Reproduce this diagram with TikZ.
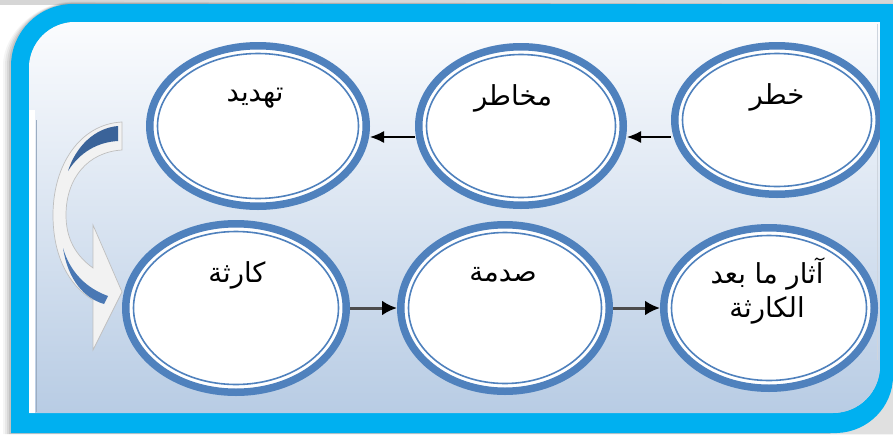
\documentclass[tikz,border=0pt]{standalone}
\usepackage{fontspec}
\newfontfamily\arabicfont[Script=Arabic]{DejaVu Sans}
\TeXXeTstate=1
\usetikzlibrary{shapes.geometric,arrows.meta}
\definecolor{framecyan}{HTML}{00B0F0}
\definecolor{ringblue}{HTML}{4F81BD}
\definecolor{bgtop}{HTML}{FBFCFE}
\definecolor{bgmid}{HTML}{E0E8F1}
\definecolor{bgbot}{HTML}{B8CCE4}
\definecolor{arrowbody}{HTML}{F2F2F2}
\definecolor{arrowedge}{HTML}{BFBFBF}
\definecolor{arrowblue}{HTML}{4A78B4}
\definecolor{arrowdark}{HTML}{3A6399}
\tikzset{
  ring/.style={ellipse, draw=ringblue, line width=7.5pt, fill=white, inner sep=0pt},
  ringthin/.style={draw=ringblue, line width=1.6pt},
  lbl/.style={font=\arabicfont\fontsize{27.5}{34}\selectfont, text=black, inner sep=0pt, align=center},
  conn/.style={draw=black, line width=1.4pt, -{Latex[length=14pt,width=12pt]}},
  connb/.style={draw=black!70, line width=3pt, -{Latex[length=15pt,width=15pt,fill=black,color=black]}}
}
\newcommand\ringnode[5]{%
  \node[ring, minimum width={2*#4-7.5}, minimum height={2*#5-7.5}] (#1) at (#2,#3) {};
  \draw[ringthin] (#1.center) ellipse [x radius={#4-11.5}, y radius={#5-11.5}];
}
\begin{document}
\begin{tikzpicture}[x=1pt,y=-1pt]
\useasboundingbox (0,0) rectangle (893,434);
% page background
\fill[white] (0,0) rectangle (893,434);
\fill[black!16] (0,0) rectangle (893,5);
% soft shadow of frame
\foreach \o/\op in {8/0.04,6/0.05,4/0.07,2/0.09}{
  \fill[black, opacity=\op] (11-\o,434) -- (11-\o,66) .. controls (11-\o,31.8) and (38.8,4-\o*0.3) .. (73,4-\o*0.3)
    -- (893,4) -- (893,434) -- cycle;
}
\fill[black!12] (893,370) -- (893,434) -- (830,434) -- cycle;
% cyan frame with hole
\fill[framecyan, even odd rule]
  (11,433) -- (11,66) .. controls (11,31.8) and (38.8,4) .. (73,4) -- (893,4) -- (893,376)
    .. controls (893,406.9) and (867.9,432) .. (837,433) -- cycle
  (29,413) -- (29,68) .. controls (29,42.6) and (49.6,22) .. (75,22) -- (880,22) -- (880,366)
    .. controls (880,392) and (859,413) .. (833,413) -- cycle;
% inner panel
\path[top color=bgtop, middle color=bgmid, bottom color=bgbot]
  (29,413) -- (29,68) .. controls (29,42.6) and (49.6,22) .. (75,22) -- (880,22) -- (880,366)
    .. controls (880,392) and (859,413) .. (833,413) -- cycle;
\fill[white] (29,110) rectangle (35,413);
\draw[black!15!bgbot, line width=0.8pt] (36,120) -- (36,412);
\draw[black!8!bgmid, line width=0.8pt] (877,24) -- (877,360);

% curved arrow (left)
\path[fill=arrowbody, draw=arrowedge, line width=0.7pt]
  (122,122) .. controls (80,124) and (53,165) .. (53,215)
  .. controls (53,255) and (68,285) .. (93,300)
  -- (93,350) -- (122,292) -- (93,225) -- (93,268)
  .. controls (75,255) and (66,238) .. (66,215)
  .. controls (66,178) and (88,152) .. (122,150) -- cycle;
\fill[arrowdark] (118,126) .. controls (95,128) and (76,146) .. (68,171)
  .. controls (80,152) and (98,142) .. (118,141) -- cycle;
\fill[arrowblue] (63,248) .. controls (70,272) and (86,288) .. (108,296)
  -- (104,304) .. controls (84,298) and (68,280) .. (63,248) -- cycle;

% ellipses
\ringnode{tahdid}{258}{126}{112}{84}
\ringnode{makhatir}{521}{126}{106}{83}
\ringnode{khatar}{777}{120}{106}{78}
\ringnode{karitha}{236}{308}{114}{88}
\ringnode{sadma}{505}{308}{108}{87}
\ringnode{athar}{769}{308}{109}{84}

% labels
\node[lbl] (l1) at (255,98) {\beginR تهديد\endR};
\node[lbl] (l2) at (513,98) {\beginR مخاطر\endR};
\node[lbl] (l3) at (777,97) {\beginR خطر\endR};
\node[lbl] (l4) at (237,275) {\beginR كارثة\endR};
\node[lbl] (l5) at (503,275) {\beginR صدمة\endR};
\node[lbl] (l6) at (767,291) {\beginR آثار ما بعد\endR\\\beginR الكارثة\endR};

% connectors
\draw[conn] ([yshift=-17pt]khatar.west) -- ([yshift=-11pt]makhatir.east);
\draw[conn] ([yshift=-11pt]makhatir.west) -- ([yshift=-11pt]tahdid.east);
\draw[connb] (karitha.east) -- (sadma.west);
\draw[connb] (sadma.east) -- (athar.west);

% right edge of frame drawn over circles
\fill[framecyan] (880,22) rectangle (893,366);
\end{tikzpicture}
\end{document}
